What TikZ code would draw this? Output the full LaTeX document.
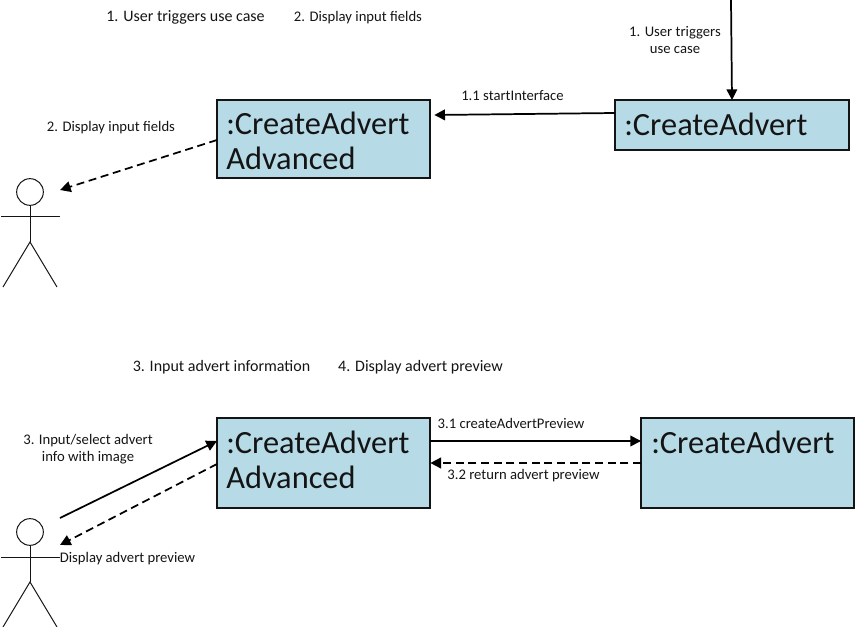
\documentclass[tikz,border=0pt]{standalone}
\usepackage{fontspec}
\setmainfont{Carlito}
\usetikzlibrary{arrows.meta}
\definecolor{boxblue}{RGB}{182,219,231}
\definecolor{inkc}{RGB}{20,20,20}
\tikzset{
  x=0.75pt,y=-0.75pt,
  boxn/.style={draw=inkc,line width=1.5pt,fill=boxblue,anchor=north west,inner sep=0pt,outer sep=0pt},
  boxtxt/.style={anchor=base west,inner sep=0pt,font=\fontsize{24.3}{27}\selectfont,text=inkc},
  lbl/.style={inner sep=0pt,align=center,font=\fontsize{11}{13.2}\selectfont,text=inkc},
  lblbig/.style={lbl,font=\fontsize{12}{14}\selectfont},
  solidarrow/.style={draw=black,line width=1.3pt,-{Triangle[length=8pt,width=8pt]}},
  dasharrow/.style={solidarrow,dash pattern=on 6pt off 3.5pt},
  stick/.style={draw=inkc,line width=0.75pt},
}
\newcommand{\actor}[2]{%
  \node[stick,circle,minimum size=20pt,inner sep=0pt,outer sep=0pt] (#1head) at (30,#2) {};
  \coordinate (#1hip) at (30,#2+50);
  \coordinate (#1la) at (1,#2+25);
  \coordinate (#1ra) at (60,#2+25);
  \coordinate (#1lf) at (3,#2+95);
  \coordinate (#1rf) at (57,#2+95);
  \draw[stick] (#1head.south) -- (#1hip);
  \draw[stick] (#1la) -- (#1ra);
  \draw[stick] (#1lf) -- (#1hip) -- (#1rf);
}
\begin{document}
\begin{tikzpicture}
\useasboundingbox (0,0) rectangle (856,627);
% boxes
\node[boxn,minimum width=160pt,minimum height=58.5pt] (adva) at (217,100) {};
\node[boxn,minimum width=175.5pt,minimum height=37.5pt] (crea) at (615,100) {};
\node[boxn,minimum width=160pt,minimum height=67.5pt] (advb) at (217,418) {};
\node[boxn,minimum width=160pt,minimum height=67.5pt] (creb) at (641,418) {};
% box texts
\node[boxtxt] (advat1) at (226,135) {:CreateAdvert};
\node[boxtxt] (advat2) at (226,170) {Advanced};
\node[boxtxt] (creat) at (624,136) {:CreateAdvert};
\node[boxtxt] (advbt1) at (226,453) {:CreateAdvert};
\node[boxtxt] (advbt2) at (226,488) {Advanced};
\node[boxtxt] (crebt) at (651,453) {:CreateAdvert};
% actors
\actor{ua}{192}
\actor{ub}{532}
% free ends
\coordinate (top) at (731,0);
\coordinate (uaend) at (60,190);
\coordinate (ubstart) at (60,518);
\coordinate (ubend) at (60,545);
% connectors
\draw[solidarrow] (top) -- (crea.north west -| 732,0);
\draw[solidarrow] ([yshift=-9.75pt]crea.north west) -- ([xshift=3pt,yshift=-11.25pt]adva.north east);
\draw[dasharrow] ([yshift=-0.75pt]adva.west) -- (uaend);
\draw[solidarrow] (ubstart) -- ([yshift=16.5pt]advb.west);
\draw[dasharrow] ([yshift=-0.75pt]advb.west) -- (ubend);
\draw[solidarrow] ([yshift=-17.25pt]advb.north east) -- ([yshift=-17.25pt]creb.north west);
\draw[dasharrow] (creb.west) -- (advb.east);
% labels
\node[lblbig] (l1) at (185.5,17.5) {1. User triggers use case};
\node[lbl] (l2) at (358,17.5) {2. Display input fields};
\node[lbl] (l3) at (675,40) {1. User triggers\\use case};
\node[lbl] (l4) at (512.5,96) {1.1 startInterface};
\node[lbl] (l5) at (111,128) {2. Display input fields};
\node[lblbig] (l6) at (221.5,367.5) {3. Input advert information};
\node[lblbig] (l7) at (420.5,367.5) {4. Display advert preview};
\node[lbl] (l8) at (88,449) {3. Input/select advert\\info with image};
\node[lbl] (l9) at (127.5,559) {Display advert preview};
\node[lbl] (l10) at (511,423) {3.1 createAdvertPreview};
\node[lbl] (l11) at (523.5,475.5) {3.2 return advert preview};
\end{tikzpicture}
\end{document}
